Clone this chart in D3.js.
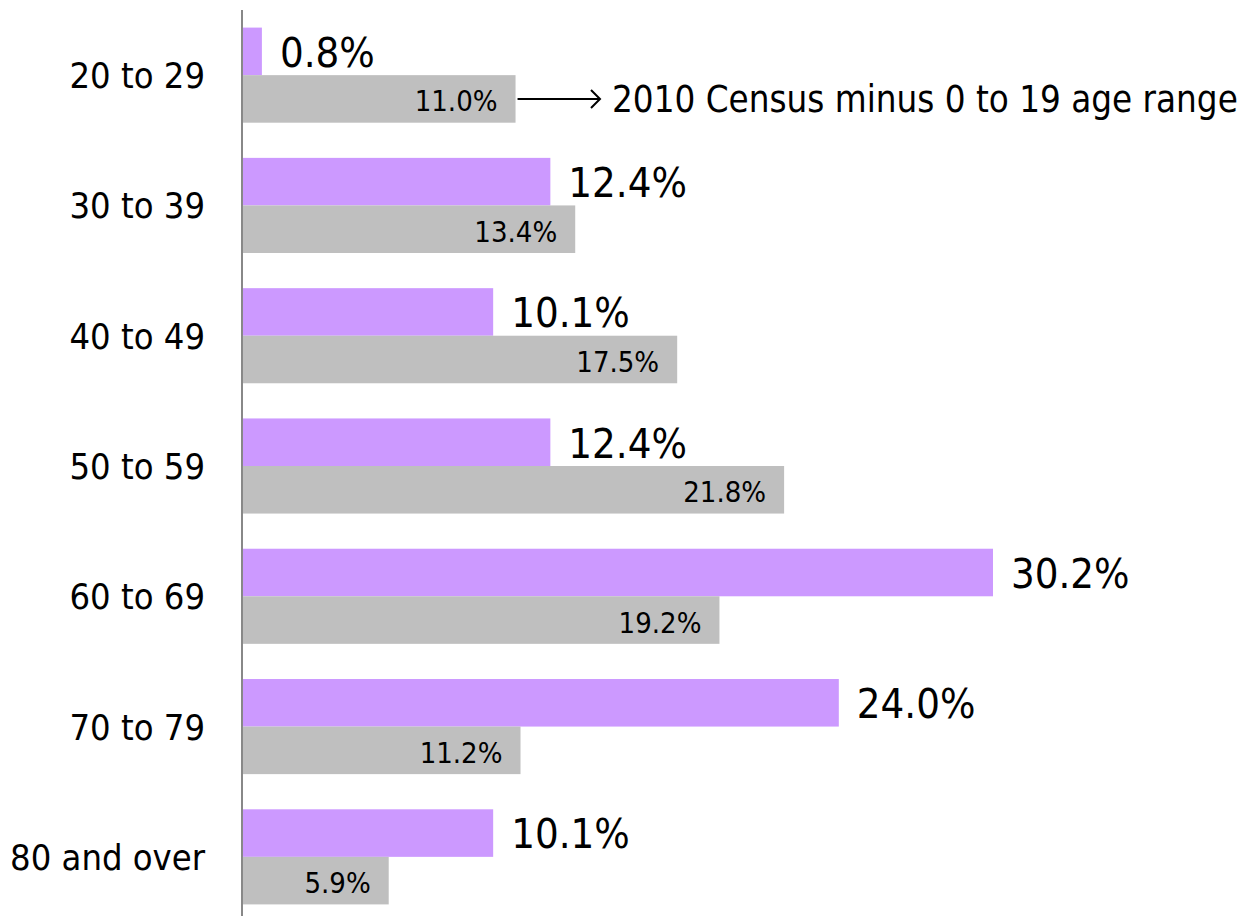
<!DOCTYPE html>
<html lang="en">
    <head>
        <meta charset="utf-8">
        <title>Age range vs 2010 Census</title>
        <script src="https://d3js.org/d3.v7.min.js"></script>
        <style>
            body { margin: 0; background: #fff; }
            text { font-family: "DejaVu Sans Condensed", "DejaVu Sans", sans-serif; fill: #000; }
        </style>
    </head>
    <body>
        <script>

            // data
            var categories = ["20 to 29", "30 to 39", "40 to 49", "50 to 59", "60 to 69", "70 to 79", "80 and over"];
            var surveyValues = [0.8, 12.4, 10.1, 12.4, 30.2, 24.0, 10.1];
            var censusValues = [11.0, 13.4, 17.5, 21.8, 19.2, 11.2, 5.9];
            var censusNote = "2010 Census minus 0 to 19 age range";

            var w = 1243;
            var h = 916;
            var axisX = 242;

            var svg = d3.select("body")
                .append("svg")
                .attr("width", w)
                .attr("height", h);

            var x = d3.scaleLinear()
                .domain([0, 30.2])
                .range([axisX, 993]);

            var y = d3.scaleBand()
                .domain(categories)
                .range([10, 922])
                .paddingInner(0.27)
                .paddingOuter(0.135);

            var inner = d3.scaleBand()
                .domain(["survey", "census"])
                .range([0, y.bandwidth()]);

            var rows = categories.map(function (c, i) {
                return { cat: c, survey: surveyValues[i], census: censusValues[i] };
            });

            var g = svg.selectAll("g.row")
                .data(rows)
                .enter()
                .append("g")
                .attr("class", "row")
                .attr("transform", function (d) { return "translate(0," + y(d.cat) + ")"; });

            // purple bars
            g.append("rect")
                .attr("x", x(0))
                .attr("y", inner("survey"))
                .attr("width", function (d) { return x(d.survey) - x(0); })
                .attr("height", inner.bandwidth())
                .attr("fill", "#cc99ff");

            // gray bars
            g.append("rect")
                .attr("x", x(0))
                .attr("y", inner("census"))
                .attr("width", function (d) { return x(d.census) - x(0); })
                .attr("height", inner.bandwidth())
                .attr("fill", "#bfbfbf");

            // big labels next to purple bars
            g.append("text")
                .attr("x", function (d) { return x(d.survey) + 18; })
                .attr("y", inner("survey") + inner.bandwidth() / 2)
                .attr("dy", "0.37em")
                .style("font-size", "41.5px")
                .text(function (d) { return d.survey.toFixed(1) + "%"; });

            // small labels inside gray bars
            g.append("text")
                .attr("x", function (d) { return x(d.census) - 18; })
                .attr("y", inner("census") + inner.bandwidth() / 2)
                .attr("dy", "0.43em")
                .attr("text-anchor", "end")
                .style("font-size", "29px")
                .text(function (d) { return d.census.toFixed(1) + "%"; });

            // category labels
            g.append("text")
                .attr("x", 205)
                .attr("y", inner.bandwidth())
                .attr("dy", "0.36em")
                .attr("text-anchor", "end")
                .style("font-size", "36px")
                .text(function (d) { return d.cat; });

            // axis line
            svg.append("line")
                .attr("x1", axisX).attr("x2", axisX)
                .attr("y1", 10).attr("y2", h)
                .attr("stroke", "#888")
                .attr("stroke-width", 2);

            // annotation arrow on the first census bar
            var first = rows[0];
            var ay = y(first.cat) + inner("census") + inner.bandwidth() / 2;
            var ax0 = x(first.census) + 2;
            var ax1 = 600;
            svg.append("line")
                .attr("x1", ax0).attr("x2", ax1)
                .attr("y1", ay).attr("y2", ay)
                .attr("stroke", "#000")
                .attr("stroke-width", 2);
            svg.append("path")
                .attr("d", "M" + (ax1 - 9) + "," + (ay - 9) + "L" + ax1 + "," + ay + "L" + (ax1 - 9) + "," + (ay + 9))
                .attr("fill", "none")
                .attr("stroke", "#000")
                .attr("stroke-width", 2);
            svg.append("text")
                .attr("x", 612)
                .attr("y", ay)
                .attr("dy", "0.36em")
                .style("font-size", "36.4px")
                .text(censusNote);

        </script>
    </body>
</html>
